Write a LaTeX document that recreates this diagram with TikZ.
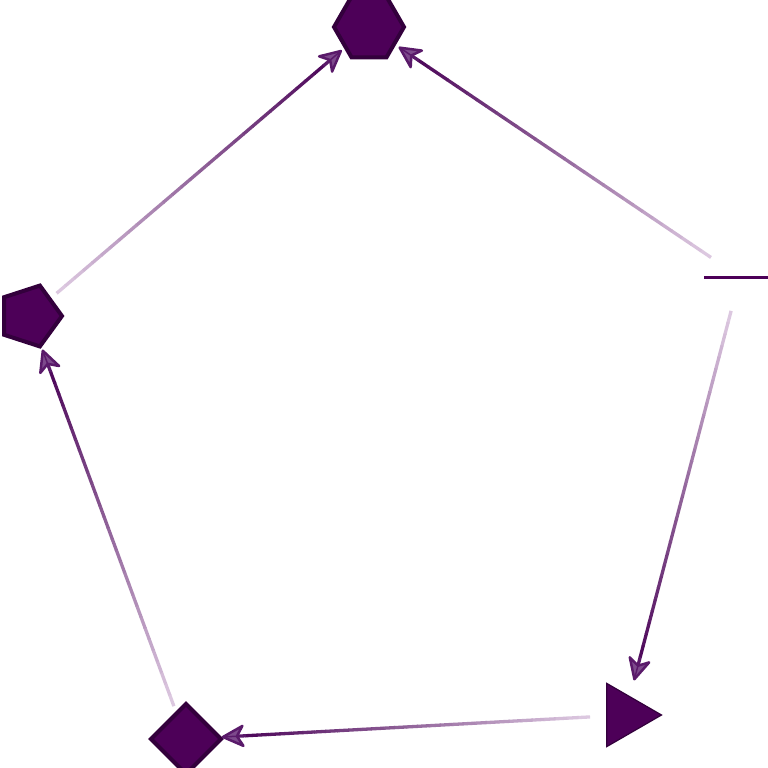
\documentclass[tikz,border=0pt]{standalone}
\usetikzlibrary{shapes.geometric,calc}
\definecolor{nodefill}{HTML}{4D0058}
\definecolor{nodeline}{HTML}{33003C}
\definecolor{edgedark}{HTML}{4F0A5C}
\definecolor{edgelight}{HTML}{DCC8E0}
\definecolor{tipdraw}{HTML}{5A1A6A}
\definecolor{tipfill}{HTML}{7D4A8C}
\tikzset{
  mk/.style={regular polygon, draw=nodeline, fill=nodefill, line width=4pt, inner sep=0pt, outer sep=0pt},
  seg/.style={line width=3.3pt},
  headstyle/.style={draw=tipdraw, fill=tipfill, line width=2.5pt, line join=round},
  shaftstyle/.style={draw=tipdraw, line width=3.3pt},
}
\begin{document}
\begin{tikzpicture}[x=1pt,y=-1pt]
\useasboundingbox (0,0) rectangle (768,768);
\clip (0,0) rectangle (768,768);
\fill[white] (0,0) rectangle (768,768);
% nodes
\node[mk, regular polygon sides=6, minimum size=70pt] (H) at (369,27) {};
\node[mk, regular polygon sides=5, shape border rotate=-90, minimum size=64pt] (P) at (30,316) {};
\node[mk, regular polygon sides=4, shape border rotate=45, minimum size=70pt] (D) at (186,739) {};
\node[mk, regular polygon sides=3, shape border rotate=-90, minimum size=73pt, line width=1.2pt] (T) at (625,715) {};
\coordinate (R) at (740,277);
\draw[line width=3pt, nodefill] ($(R)+(-36,0)$) -- ($(R)+(36,0)$);
% edges
\foreach \src/\tgt in {P/H, R/H, R/T, T/D, D/P} {
  \coordinate (s0) at ($(\src)!35pt!(\tgt)$);
  \coordinate (t0) at ($(\tgt)!37pt!(\src)$);
  \coordinate (tE) at ($(\tgt)!60pt!(\src)$);
  \coordinate (bk) at ($(t0)!20pt!(s0)$);
  \coordinate (nt) at ($(t0)!14pt!(s0)$);
  \coordinate (w1) at ($(bk)!10pt!90:(t0)$);
  \coordinate (w2) at ($(bk)!10pt!-90:(t0)$);
  \foreach \i in {0,...,29} {
    \pgfmathsetmacro\pa{\i/30}
    \pgfmathsetmacro\pb{(\i+1.05)/30}
    \pgfmathtruncatemacro\pc{100*\i/29}
    \draw[seg, color=edgedark!\pc!edgelight] ($(s0)!\pa!(tE)$) -- ($(s0)!\pb!(tE)$);
  }
  \draw[shaftstyle] (tE) -- ($(t0)!4pt!(s0)$);
  \draw[headstyle] (t0) -- (w1) -- (nt) -- (w2) -- cycle;
  \draw[draw=tipdraw, line width=1.5pt] (nt) -- ($(t0)!3pt!(s0)$);
}
\end{tikzpicture}
\end{document}
